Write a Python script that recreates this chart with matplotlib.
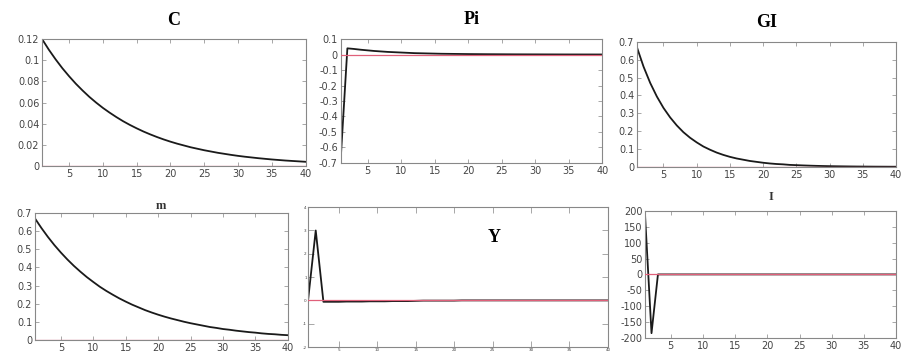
import matplotlib
matplotlib.use("Agg")
import matplotlib.pyplot as plt
from matplotlib.ticker import FuncFormatter

periods = list(range(1, 41))

C = [0.120, 0.110, 0.1009, 0.0925, 0.0849, 0.0778, 0.0714, 0.0654, 0.0600, 0.0550,
     0.0505, 0.0463, 0.0424, 0.0389, 0.0357, 0.0327, 0.0300, 0.0275, 0.0252, 0.0231,
     0.0212, 0.0195, 0.0178, 0.0164, 0.0150, 0.0138, 0.0126, 0.0116, 0.0106, 0.0097,
     0.0089, 0.0082, 0.0075, 0.0069, 0.0063, 0.0058, 0.0053, 0.0049, 0.0045, 0.0041]

Pi = [-0.68, 0.040, 0.036, 0.031, 0.027, 0.023, 0.020, 0.017, 0.015, 0.013,
      0.011, 0.009, 0.008, 0.007, 0.006, 0.005, 0.0045, 0.004, 0.0035, 0.003,
      0.0027, 0.0024, 0.0021, 0.0019, 0.0017, 0.0015, 0.0013, 0.0012, 0.0011, 0.001,
      0.0009, 0.0008, 0.0007, 0.0006, 0.0005, 0.0005, 0.0004, 0.0004, 0.0003, 0.0003]

GI = [0.670, 0.561, 0.470, 0.394, 0.330, 0.277, 0.232, 0.194, 0.163, 0.137,
      0.114, 0.096, 0.080, 0.067, 0.056, 0.047, 0.040, 0.033, 0.028, 0.023,
      0.019, 0.016, 0.014, 0.011, 0.0095, 0.008, 0.0067, 0.0056, 0.0047, 0.0039,
      0.0033, 0.0028, 0.0023, 0.0019, 0.0016, 0.0014, 0.0011, 0.0010, 0.0008, 0.0007]

m = [0.670, 0.617, 0.568, 0.523, 0.482, 0.444, 0.409, 0.377, 0.347, 0.320,
     0.294, 0.271, 0.250, 0.230, 0.212, 0.195, 0.180, 0.165, 0.152, 0.140,
     0.129, 0.119, 0.110, 0.101, 0.093, 0.086, 0.079, 0.072, 0.067, 0.061,
     0.057, 0.052, 0.048, 0.044, 0.041, 0.037, 0.034, 0.032, 0.029, 0.027]

Y = [0.0, 3.0, -0.06, -0.06, -0.06, -0.05, -0.05, -0.05, -0.04, -0.04,
     -0.04, -0.03, -0.03, -0.03, -0.02, -0.01, -0.01, -0.01, -0.01, -0.01,
     0, 0, 0, 0, 0, 0, 0, 0, 0, 0,
     0, 0, 0, 0, 0, 0, 0, 0, 0, 0]

I = [185, -185, 0, 0, 0, 0, 0, 0, 0, 0,
     0, 0, 0, 0, 0, 0, 0, 0, 0, 0,
     0, 0, 0, 0, 0, 0, 0, 0, 0, 0,
     0, 0, 0, 0, 0, 0, 0, 0, 0, 0]

steady = [0] * 40

xticks = [5, 10, 15, 20, 25, 30, 35, 40]

# name, data, rect, ylim, yticks, title style, title pad
panels = [
    ("C", C, [0.0464, 0.532, 0.291, 0.358], (0, 0.12), [0, 0.02, 0.04, 0.06, 0.08, 0.1, 0.12], "top", 10),
    ("Pi", Pi, [0.376, 0.541, 0.289, 0.349], (-0.7, 0.1), [-0.7, -0.6, -0.5, -0.4, -0.3, -0.2, -0.1, 0, 0.1], "top", 11),
    ("GI", GI, [0.703, 0.530, 0.286, 0.352], (0, 0.7), [0, 0.1, 0.2, 0.3, 0.4, 0.5, 0.6, 0.7], "top", 11),
    ("m", m, [0.0386, 0.042, 0.279, 0.358], (0, 0.7), [0, 0.1, 0.2, 0.3, 0.4, 0.5, 0.6, 0.7], "small", 3),
    ("Y", Y, [0.340, 0.0225, 0.331, 0.394], (-2, 4), [-2, -1, 0, 1, 2, 3, 4], "inside", 0),
    ("I", I, [0.712, 0.048, 0.277, 0.358], (-200, 200), [-200, -150, -100, -50, 0, 50, 100, 150, 200], "small", 8),
]

fig = plt.figure(figsize=(9.06, 3.55), dpi=100)

for name, data, rect, ylim, yticks, tpos, tpad in panels:
    ax = fig.add_axes(rect)
    ax.plot(periods, data, color="#1a1a1a", lw=1.3, zorder=2)
    ax.plot(periods, steady, color="#e0607a", lw=0.9, zorder=3)
    ax.set_xlim(1, 40)
    ax.set_ylim(*ylim)
    ax.set_xticks(xticks)
    ax.set_yticks(yticks)
    ax.yaxis.set_major_formatter(FuncFormatter(lambda v, p: "%g" % round(v, 4)))
    ax.tick_params(direction="in", top=True, right=True, length=3, width=0.6,
                   color="#999999", labelcolor="#444444", pad=2)
    for s in ax.spines.values():
        s.set_color("#888888")
        s.set_linewidth(0.8)
    if tpos == "inside":
        ax.tick_params(labelsize=3, length=4, pad=1)
        ax.text(0.62, 0.78, name, transform=ax.transAxes, ha="center", va="center",
                fontsize=13, fontweight="bold", family="Liberation Serif")
    else:
        ax.tick_params(labelsize=7)
        if tpos == "top":
            ax.set_title(name, fontsize=13, fontweight="bold", family="Liberation Serif", pad=tpad)
        else:
            ax.set_title(name, fontsize=9, fontweight="bold", family="Liberation Serif", pad=tpad,
                         color="#333333")

fig.savefig("out.png", dpi=100)
